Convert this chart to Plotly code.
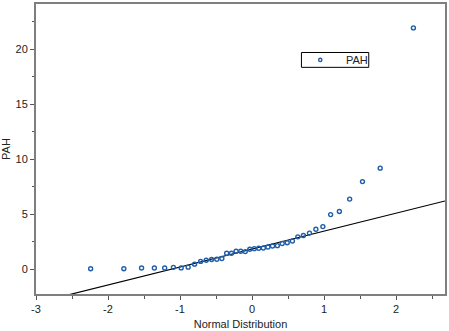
import plotly.graph_objects as go

# Normal quantiles (x) and PAH values (y)
normal_q = [-2.241, -1.780, -1.534, -1.356, -1.213, -1.092, -0.984, -0.887, -0.798, -0.714,
            -0.636, -0.561, -0.489, -0.419, -0.352, -0.285, -0.221, -0.157, -0.094, -0.031,
            0.031, 0.094, 0.157, 0.221, 0.285, 0.352, 0.419, 0.489, 0.561, 0.636,
            0.714, 0.798, 0.887, 0.984, 1.092, 1.213, 1.356, 1.534, 1.780, 2.241]
pah = [0.06, 0.06, 0.12, 0.12, 0.12, 0.18, 0.13, 0.20, 0.47, 0.72,
       0.83, 0.90, 0.92, 0.98, 1.46, 1.46, 1.64, 1.64, 1.61, 1.82,
       1.88, 1.91, 1.94, 2.03, 2.12, 2.15, 2.35, 2.42, 2.57, 2.95,
       3.07, 3.29, 3.64, 3.88, 4.97, 5.26, 6.38, 7.97, 9.19, 21.93]

# reference line parameters
line_intercept = 1.84
line_slope = 1.63

x_tickvals = [-3, -2, -1, 0, 1, 2]
x_ticktext = ["-3", "-2", "-1", "0", "1", "2"]
y_tickvals = [0, 5, 10, 15, 20]
y_ticktext = ["0", "5", "10", "15", "20"]

series_name = "PAH"

x_range = [-3, 2.68]
y_range = [-2.24, 24.1]

line_x = [x_range[0], x_range[1]]
line_y = [line_intercept + line_slope * v for v in line_x]

marker_color = "#1f5ea8"
font_family = "Liberation Sans, Arial, sans-serif"
text_color = "#222222"

fig = go.Figure()
fig.add_trace(go.Scatter(
    x=line_x, y=line_y, mode="lines",
    line=dict(color="black", width=1.2), showlegend=False, hoverinfo="skip"))
fig.add_trace(go.Scatter(
    x=normal_q, y=pah, mode="markers", name=series_name, showlegend=False,
    marker=dict(symbol="circle-open", size=4, color=marker_color,
                line=dict(width=1.4, color=marker_color))))

axis_common = dict(
    showline=True, mirror=True, linecolor="#7f7f7f", linewidth=2,
    showgrid=False, zeroline=False,
    ticks="outside", tickcolor="#555555", tickwidth=1,
    tickfont=dict(family=font_family, size=11, color=text_color),
)

fig.update_xaxes(
    range=x_range, tickmode="array", tickvals=x_tickvals, ticktext=x_ticktext, ticklen=4,
    title=dict(text="Normal Distribution", font=dict(family=font_family, size=11, color=text_color), standoff=6),
    minor=dict(ticks="outside", dtick=0.5, tick0=0, ticklen=3, tickcolor="#555555"),
    **axis_common)
fig.update_yaxes(
    range=y_range, tickmode="array", tickvals=y_tickvals, ticktext=y_ticktext, ticklen=4,
    title=dict(text="PAH", font=dict(family=font_family, size=11, color=text_color), standoff=6),
    minor=dict(ticks="outside", dtick=2.5, tick0=0, ticklen=2, tickcolor="#555555"),
    **axis_common)

# manual legend box (compact, like the reference)
lx0, lx1, ly0, ly1 = 0.649, 0.8136, 0.7816, 0.8328
ly_mid = (ly0 + ly1) / 2
fig.add_shape(type="rect", xref="paper", yref="paper", x0=lx0, x1=lx1, y0=ly0, y1=ly1,
              line=dict(color="black", width=1), fillcolor="white", layer="above")
fig.add_shape(type="circle", xref="paper", yref="paper",
              xsizemode="pixel", ysizemode="pixel", xanchor=0.695, yanchor=ly_mid,
              x0=-1.6, x1=1.6, y0=-1.6, y1=1.6,
              line=dict(color=marker_color, width=1.4), layer="above")
fig.add_annotation(xref="paper", yref="paper", x=0.753, y=ly_mid, xanchor="left", yanchor="middle",
                   text=series_name, showarrow=False,
                   font=dict(family=font_family, size=11, color=text_color))

fig.update_layout(
    width=449, height=331,
    margin=dict(l=34, r=2, t=2, b=36),
    paper_bgcolor="white", plot_bgcolor="white",
    font=dict(family=font_family, size=11, color=text_color),
    showlegend=False,
)

fig.write_html("out.html")
